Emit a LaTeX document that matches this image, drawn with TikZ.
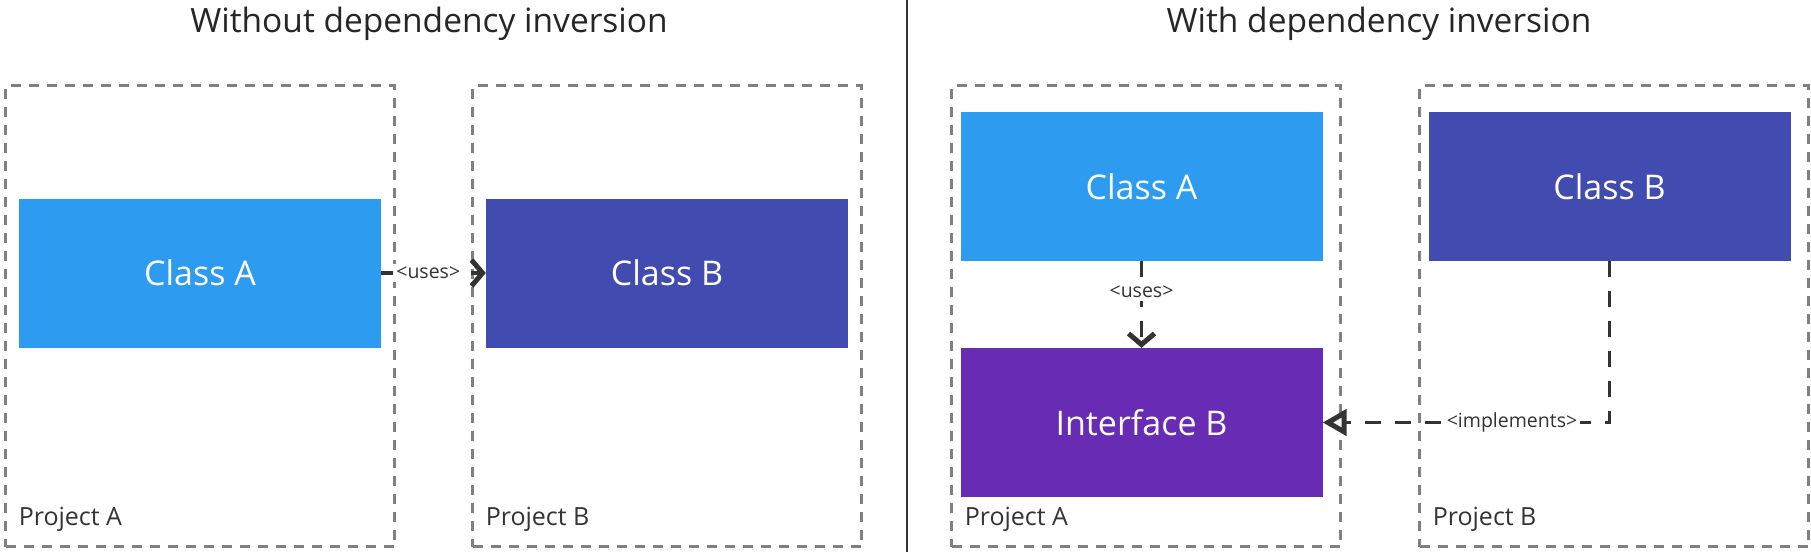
\documentclass[tikz,border=0pt]{standalone}
\usepackage{fontspec}
\setmainfont{Open Sans}
\usepackage{tikz}
\usetikzlibrary{arrows.meta, positioning}
\definecolor{clsblue}{RGB}{45,155,239}
\definecolor{clsindigo}{RGB}{66,76,176}
\definecolor{ifpurple}{RGB}{103,43,180}
\definecolor{linegray}{RGB}{51,51,51}
\definecolor{framegray}{RGB}{128,128,128}

\begin{document}
\begin{tikzpicture}[x=1pt, y=-1pt,
		project/.style={draw=framegray, line width=2.5pt, dash pattern=on 10pt off 8pt, minimum width=389pt, minimum height=461pt, inner sep=0pt},
		classbox/.style={fill=#1, text=white, font=\fontsize{34}{40}\selectfont, minimum width=362pt, minimum height=149pt, inner sep=0pt},
		projlabel/.style={font=\fontsize{25}{30}\selectfont, text=linegray, anchor=base west},
		rel/.style={draw=linegray, line width=3.5pt, dash pattern=on 16pt off 14pt},
		uses/.style={rel, -{Straight Barb[length=11pt,width=26pt,line width=5pt]}},
		edgelabel/.style={font=\fontsize{19.5}{23}\selectfont, text=linegray, fill=white, inner sep=3pt},
		title/.style={font=\fontsize{33.5}{40}\selectfont, text=black!85}]
	\useasboundingbox (0,0) rectangle (1811,552);
	% titles and divider
	\node[title] (tleft) at (429,24) {Without dependency inversion};
	\node[title] (tright) at (1379,24) {With dependency inversion};
	\coordinate (divtop) at (907,0);
	\coordinate (divbot) at (907,552);
	\draw[linegray, line width=2pt] (divtop) -- (divbot);
	% without
	\node[project] (lprojA) at (200,316) {};
	\node[project] (lprojB) at (667,316) {};
	\node[classbox=clsblue] (lclsA) at (200,273) {Class A};
	\node[classbox=clsindigo] (lclsB) at (667,273) {Class B};
	\draw[uses] (lclsA) -- node[edgelabel, pos=0.45] {<uses>} (lclsB);
	% with
	\node[project] (rprojA) at (1146,316) {};
	\node[project] (rprojB) at (1614,316) {};
	\node[classbox=clsblue] (rclsA) at (1141.5,186.5) {Class A};
	\node[classbox=ifpurple] (ifB) at (1141.5,422.5) {Interface B};
	\node[classbox=clsindigo] (rclsB) at (1609.5,186.5) {Class B};
	\draw[uses] (rclsA) -- node[edgelabel, pos=0.35] {<uses>} (ifB);
	\draw[rel, -{Triangle[open, fill=gray!10, length=24pt, width=26pt, line width=5pt]}] (rclsB.south) |- node[edgelabel, pos=0.67] {<implements>} (ifB.east);
	% project labels
	\foreach \p/\t in {lprojA/Project A, lprojB/Project B, rprojA/Project A, rprojB/Project B}
		\node[projlabel] at ([shift={(11pt,22pt)}]\p.south west) {\t};
\end{tikzpicture}
\end{document}
